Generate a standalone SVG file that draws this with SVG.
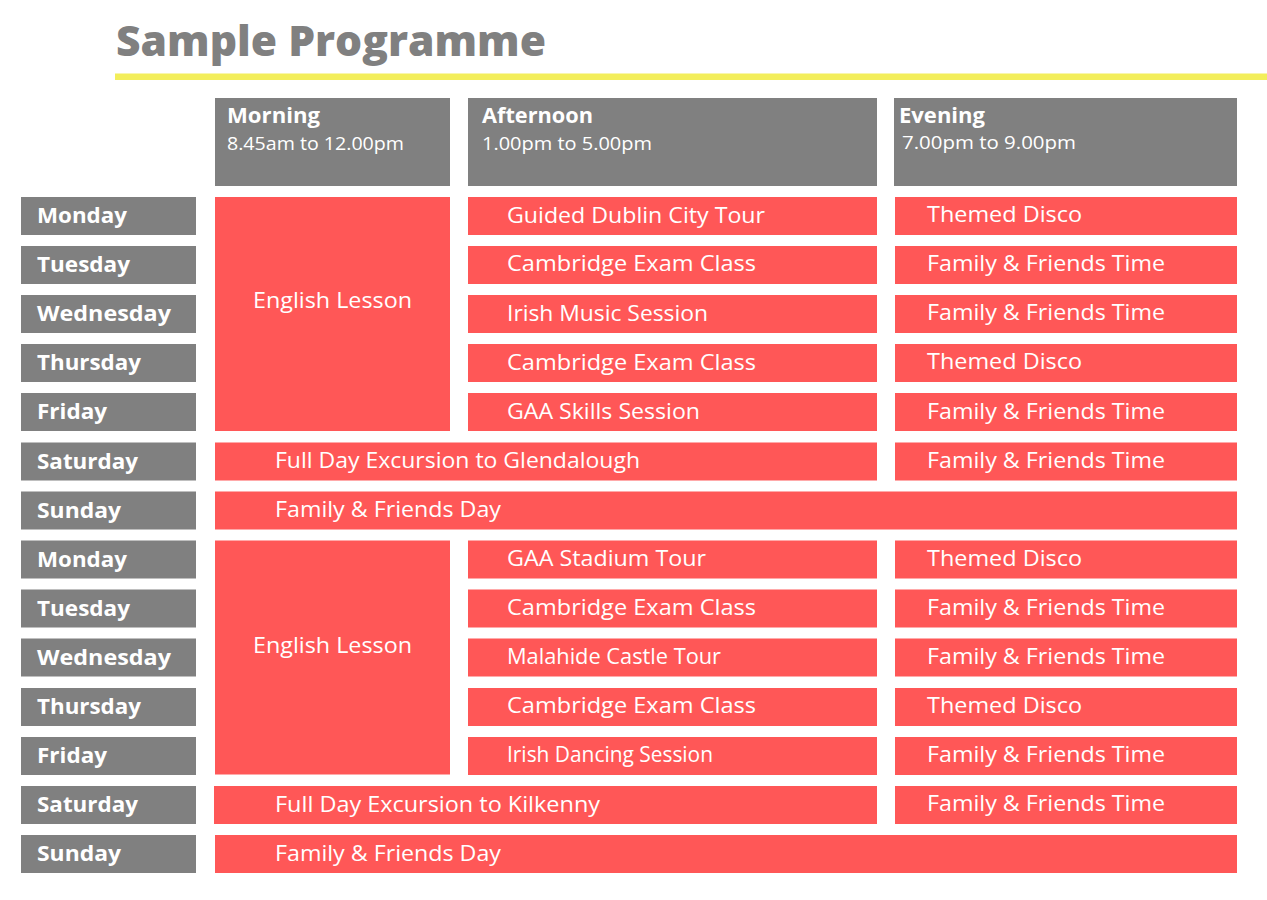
<svg xmlns="http://www.w3.org/2000/svg" width="1267" height="900" viewBox="0 0 1267 900">
<style>
.bg{fill:#ffffff}
.g{fill:#808080}
.r{fill:#ff5757}
.y{fill:#f3ee5b}
.title{font-family:"Open Sans","Lato","Liberation Sans",sans-serif;font-weight:800;font-size:42px;fill:#808080}
.hd{font-family:"Open Sans","Lato","Liberation Sans",sans-serif;font-weight:700;font-size:22px;fill:#ffffff}
.tm{font-family:"Open Sans","Lato","Liberation Sans",sans-serif;font-weight:400;font-size:18px;fill:#ffffff}
.day{font-family:"Open Sans","Lato","Liberation Sans",sans-serif;font-weight:700;font-size:21px;fill:#ffffff}
.t{font-family:"Open Sans","Lato","Liberation Sans",sans-serif;font-weight:400;font-size:21px;fill:#ffffff}
</style>
<rect class="bg" x="0" y="0" width="1267" height="900"/>
<g id="title">
<text class="title" x="116" y="56" textLength="430" lengthAdjust="spacingAndGlyphs">Sample Programme</text>
<rect class="y" x="115" y="73.5" width="1152" height="6.5"/>
</g>
<g id="header-morning">
<rect class="g" x="215" y="98" width="235" height="88"/>
<text class="hd" x="227" y="122.5" textLength="93" lengthAdjust="spacingAndGlyphs">Morning</text>
<text class="tm" x="227" y="150" textLength="177" lengthAdjust="spacingAndGlyphs">8.45am to 12.00pm</text>
</g>
<g id="header-afternoon">
<rect class="g" x="468" y="98" width="409" height="88"/>
<text class="hd" x="482" y="122.5" textLength="111" lengthAdjust="spacingAndGlyphs">Afternoon</text>
<text class="tm" x="482" y="150" textLength="170" lengthAdjust="spacingAndGlyphs">1.00pm to 5.00pm</text>
</g>
<g id="header-evening">
<rect class="g" x="894" y="98" width="343" height="88"/>
<text class="hd" x="899" y="122.5" textLength="86" lengthAdjust="spacingAndGlyphs">Evening</text>
<text class="tm" x="902" y="148.5" textLength="174" lengthAdjust="spacingAndGlyphs">7.00pm to 9.00pm</text>
</g>
<g id="days">
<g id="day-1"><rect class="g" x="21" y="197" width="175" height="38"/><text class="day" x="37" y="223" textLength="90" lengthAdjust="spacingAndGlyphs">Monday</text></g>
<g id="day-2"><rect class="g" x="21" y="246" width="175" height="38"/><text class="day" x="37" y="272" textLength="93" lengthAdjust="spacingAndGlyphs">Tuesday</text></g>
<g id="day-3"><rect class="g" x="21" y="295" width="175" height="38"/><text class="day" x="37" y="321" textLength="134" lengthAdjust="spacingAndGlyphs">Wednesday</text></g>
<g id="day-4"><rect class="g" x="21" y="344" width="175" height="38"/><text class="day" x="37" y="370" textLength="104" lengthAdjust="spacingAndGlyphs">Thursday</text></g>
<g id="day-5"><rect class="g" x="21" y="393" width="175" height="38"/><text class="day" x="37" y="419" textLength="70" lengthAdjust="spacingAndGlyphs">Friday</text></g>
<g id="day-6"><rect class="g" x="21" y="442.5" width="175" height="38"/><text class="day" x="37" y="468.5" textLength="101" lengthAdjust="spacingAndGlyphs">Saturday</text></g>
<g id="day-7"><rect class="g" x="21" y="491.5" width="175" height="38"/><text class="day" x="37" y="517.5" textLength="84" lengthAdjust="spacingAndGlyphs">Sunday</text></g>
<g id="day-8"><rect class="g" x="21" y="540.5" width="175" height="38"/><text class="day" x="37" y="566.5" textLength="90" lengthAdjust="spacingAndGlyphs">Monday</text></g>
<g id="day-9"><rect class="g" x="21" y="589.5" width="175" height="38"/><text class="day" x="37" y="615.5" textLength="93" lengthAdjust="spacingAndGlyphs">Tuesday</text></g>
<g id="day-10"><rect class="g" x="21" y="638.5" width="175" height="38"/><text class="day" x="37" y="664.5" textLength="134" lengthAdjust="spacingAndGlyphs">Wednesday</text></g>
<g id="day-11"><rect class="g" x="21" y="688" width="175" height="38"/><text class="day" x="37" y="714" textLength="104" lengthAdjust="spacingAndGlyphs">Thursday</text></g>
<g id="day-12"><rect class="g" x="21" y="737" width="175" height="38"/><text class="day" x="37" y="763" textLength="70" lengthAdjust="spacingAndGlyphs">Friday</text></g>
<g id="day-13"><rect class="g" x="21" y="786" width="175" height="38"/><text class="day" x="37" y="812" textLength="101" lengthAdjust="spacingAndGlyphs">Saturday</text></g>
<g id="day-14"><rect class="g" x="21" y="835" width="175" height="38"/><text class="day" x="37" y="861" textLength="84" lengthAdjust="spacingAndGlyphs">Sunday</text></g>
</g>
<g id="morning-week1"><rect class="r" x="215" y="197" width="235" height="234"/><text class="t" x="253" y="308" textLength="159" lengthAdjust="spacingAndGlyphs">English Lesson</text></g>
<g id="morning-week2"><rect class="r" x="215" y="540.5" width="235" height="234"/><text class="t" x="253" y="652.5" textLength="159" lengthAdjust="spacingAndGlyphs">English Lesson</text></g>
<g id="afternoon">
<g id="aft-1"><rect class="r" x="468" y="197" width="409" height="38"/><text class="t" x="507" y="222.5" textLength="258" lengthAdjust="spacingAndGlyphs">Guided Dublin City Tour</text></g>
<g id="aft-2"><rect class="r" x="468" y="246" width="409" height="38"/><text class="t" x="507" y="270.5" textLength="249" lengthAdjust="spacingAndGlyphs">Cambridge Exam Class</text></g>
<g id="aft-3"><rect class="r" x="468" y="295" width="409" height="38"/><text class="t" x="507" y="321" textLength="201" lengthAdjust="spacingAndGlyphs">Irish Music Session</text></g>
<g id="aft-4"><rect class="r" x="468" y="344" width="409" height="38"/><text class="t" x="507" y="370" textLength="249" lengthAdjust="spacingAndGlyphs">Cambridge Exam Class</text></g>
<g id="aft-5"><rect class="r" x="468" y="393" width="409" height="38"/><text class="t" x="507" y="419" textLength="193" lengthAdjust="spacingAndGlyphs">GAA Skills Session</text></g>
<g id="aft-8"><rect class="r" x="468" y="540.5" width="409" height="38"/><text class="t" x="507" y="566" textLength="199" lengthAdjust="spacingAndGlyphs">GAA Stadium Tour</text></g>
<g id="aft-9"><rect class="r" x="468" y="589.5" width="409" height="38"/><text class="t" x="507" y="615" textLength="249" lengthAdjust="spacingAndGlyphs">Cambridge Exam Class</text></g>
<g id="aft-10"><rect class="r" x="468" y="638.5" width="409" height="38"/><text class="t" x="507" y="664" textLength="214" lengthAdjust="spacingAndGlyphs">Malahide Castle Tour</text></g>
<g id="aft-11"><rect class="r" x="468" y="688" width="409" height="38"/><text class="t" x="507" y="713" textLength="249" lengthAdjust="spacingAndGlyphs">Cambridge Exam Class</text></g>
<g id="aft-12"><rect class="r" x="468" y="737" width="409" height="38"/><text class="t" x="507" y="762" textLength="206" lengthAdjust="spacingAndGlyphs">Irish Dancing Session</text></g>
</g>
<g id="saturday-1"><rect class="r" x="215" y="442.5" width="662" height="38"/><text class="t" x="275" y="468" textLength="365" lengthAdjust="spacingAndGlyphs">Full Day Excursion to Glendalough</text></g>
<g id="sunday-1"><rect class="r" x="215" y="491.5" width="1022" height="38"/><text class="t" x="275" y="517" textLength="226" lengthAdjust="spacingAndGlyphs">Family &amp; Friends Day</text></g>
<g id="saturday-2"><rect class="r" x="214" y="786" width="663" height="38"/><text class="t" x="275" y="811.5" textLength="325" lengthAdjust="spacingAndGlyphs">Full Day Excursion to Kilkenny</text></g>
<g id="sunday-2"><rect class="r" x="215" y="835" width="1022" height="38"/><text class="t" x="275" y="860.5" textLength="226" lengthAdjust="spacingAndGlyphs">Family &amp; Friends Day</text></g>
<g id="evening">
<g id="eve-1"><rect class="r" x="895" y="197" width="342" height="38"/><text class="t" x="927" y="222" textLength="155" lengthAdjust="spacingAndGlyphs">Themed Disco</text></g>
<g id="eve-2"><rect class="r" x="895" y="246" width="342" height="38"/><text class="t" x="927" y="271" textLength="238" lengthAdjust="spacingAndGlyphs">Family &amp; Friends Time</text></g>
<g id="eve-3"><rect class="r" x="895" y="295" width="342" height="38"/><text class="t" x="927" y="320" textLength="238" lengthAdjust="spacingAndGlyphs">Family &amp; Friends Time</text></g>
<g id="eve-4"><rect class="r" x="895" y="344" width="342" height="38"/><text class="t" x="927" y="369" textLength="155" lengthAdjust="spacingAndGlyphs">Themed Disco</text></g>
<g id="eve-5"><rect class="r" x="895" y="393" width="342" height="38"/><text class="t" x="927" y="418.5" textLength="238" lengthAdjust="spacingAndGlyphs">Family &amp; Friends Time</text></g>
<g id="eve-6"><rect class="r" x="895" y="442.5" width="342" height="38"/><text class="t" x="927" y="467.5" textLength="238" lengthAdjust="spacingAndGlyphs">Family &amp; Friends Time</text></g>
<g id="eve-8"><rect class="r" x="895" y="540.5" width="342" height="38"/><text class="t" x="927" y="566" textLength="155" lengthAdjust="spacingAndGlyphs">Themed Disco</text></g>
<g id="eve-9"><rect class="r" x="895" y="589.5" width="342" height="38"/><text class="t" x="927" y="615" textLength="238" lengthAdjust="spacingAndGlyphs">Family &amp; Friends Time</text></g>
<g id="eve-10"><rect class="r" x="895" y="638.5" width="342" height="38"/><text class="t" x="927" y="664" textLength="238" lengthAdjust="spacingAndGlyphs">Family &amp; Friends Time</text></g>
<g id="eve-11"><rect class="r" x="895" y="688" width="342" height="38"/><text class="t" x="927" y="713" textLength="155" lengthAdjust="spacingAndGlyphs">Themed Disco</text></g>
<g id="eve-12"><rect class="r" x="895" y="737" width="342" height="38"/><text class="t" x="927" y="762" textLength="238" lengthAdjust="spacingAndGlyphs">Family &amp; Friends Time</text></g>
<g id="eve-13"><rect class="r" x="895" y="786" width="342" height="38"/><text class="t" x="927" y="811" textLength="238" lengthAdjust="spacingAndGlyphs">Family &amp; Friends Time</text></g>
</g>
</svg>
